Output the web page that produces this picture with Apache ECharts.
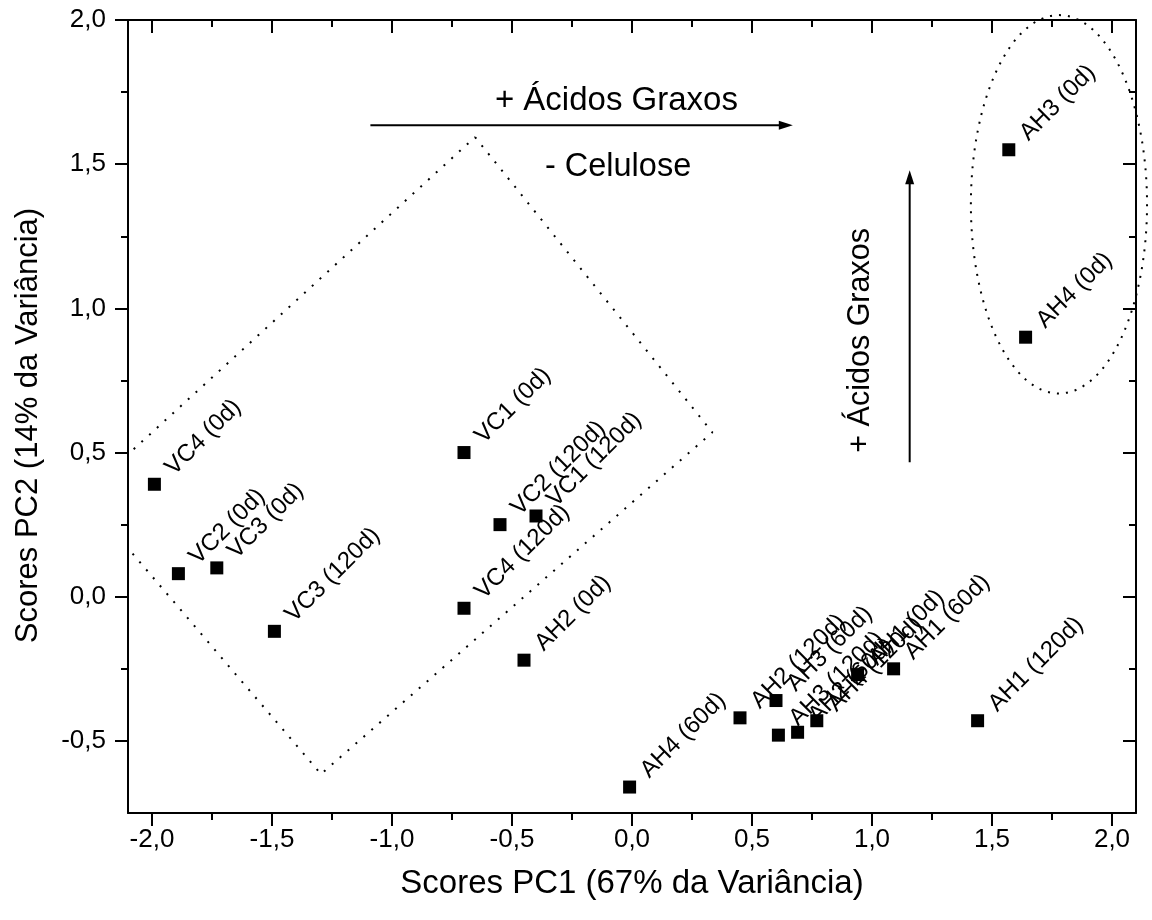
<!DOCTYPE html>
<html>
<head>
<meta charset="utf-8">
<script src="https://cdn.jsdelivr.net/npm/echarts@6/dist/echarts.min.js"></script>
<style>
html,body{margin:0;padding:0;background:#fff;}
#chart{width:1152px;height:920px;}
</style>
</head>
<body>
<div id="chart"></div>
<script>
const FONT = '"Liberation Sans", Arial, sans-serif';

// Sample labels and PCA scores
const labels = ['VC4 (0d)', 'VC2 (0d)', 'VC3 (0d)', 'VC3 (120d)', 'VC1 (0d)', 'VC4 (120d)', 'VC2 (120d)', 'VC1 (120d)',
  'AH2 (0d)', 'AH3 (0d)', 'AH4 (0d)', 'AH4 (60d)', 'AH2 (120d)', 'AH3 (60d)', 'AH3 (120d)', 'AH2 (60d)',
  'AH4 (120d)', 'AH1 (0d)', 'AH1 (60d)', 'AH1 (120d)'];
const pc1 = [-1.99, -1.89, -1.73, -1.49, -0.70, -0.70, -0.55, -0.40,
  -0.45, 1.57, 1.64, -0.01, 0.45, 0.60, 0.61, 0.69,
  0.77, 0.94, 1.09, 1.44];
const pc2 = [0.39, 0.08, 0.10, -0.12, 0.50, -0.04, 0.25, 0.28,
  -0.22, 1.55, 0.90, -0.66, -0.42, -0.36, -0.48, -0.47,
  -0.43, -0.27, -0.25, -0.43];

// Axis ticks
const xMajor = [-2, -1.5, -1, -0.5, 0, 0.5, 1, 1.5, 2];
const xMinor = [-1.75, -1.25, -0.75, -0.25, 0.25, 0.75, 1.25, 1.75];
const yMajor = [-0.5, 0, 0.5, 1, 1.5, 2];
const yMinor = [-0.25, 0.25, 0.75, 1.25, 1.75];
const xRange = [-2.1, 2.1];
const yRange = [-0.75, 2.0];

// Dotted group outlines (data coordinates)
const boxX = [-0.654, 0.335, -1.296, -2.2875, -0.654];
const boxY = [1.594, 0.57, -0.615, 0.351, 1.594];
const ellipseCx = [1.779];
const ellipseCy = [1.361];
const ellipseRx = [0.367];
const ellipseRy = [0.656];

// Arrows: start x, start y, end x, end y
const arrowX1 = [-1.09, 1.157];
const arrowY1 = [1.635, 0.466];
const arrowX2 = [0.67, 1.157];
const arrowY2 = [1.635, 1.479];

// Annotation texts
const noteText = ['+ Ácidos Graxos', '- Celulose', '+ Ácidos Graxos'];
const noteX = [-0.065, -0.058, 0.954];
const noteY = [1.719, 1.49, 0.889];
const noteRot = [0, 0, 90];
const noteSize = [33, 32.5, 30.5];

const fmt = v => Number(v).toFixed(1).replace('.', ',');

function xAxisDef(pos, values, len, inside, withLine, withLabel) {
  return {
    type: 'value', position: pos, min: xRange[0], max: xRange[1],
    axisLine: {show: withLine, onZero: false, lineStyle: {color: '#000', width: 2}},
    axisTick: {show: true, inside: inside, length: len, customValues: values, lineStyle: {color: '#000', width: 2}},
    axisLabel: withLabel ? {show: true, customValues: xMajor, formatter: fmt, fontSize: 26, color: '#000', fontFamily: FONT, margin: 14} : {show: false},
    splitLine: {show: false}
  };
}
function yAxisDef(pos, values, len, inside, withLine, withLabel) {
  return {
    type: 'value', position: pos, min: yRange[0], max: yRange[1],
    axisLine: {show: withLine, onZero: false, lineStyle: {color: '#000', width: 2}},
    axisTick: {show: true, inside: inside, length: len, customValues: values, lineStyle: {color: '#000', width: 2}},
    axisLabel: withLabel ? {show: true, customValues: yMajor, formatter: fmt, fontSize: 26, color: '#000', fontFamily: FONT, margin: 22} : {show: false},
    splitLine: {show: false}
  };
}

const xAxes = [
  xAxisDef('bottom', xMajor, 13, false, true, true),
  xAxisDef('bottom', xMinor, 7, false, false, false),
  xAxisDef('top', xMajor, 13, true, true, false),
  xAxisDef('top', xMinor, 7, true, false, false)
];
Object.assign(xAxes[0], {name: 'Scores PC1 (67% da Variância)', nameLocation: 'middle', nameGap: 54,
  nameTextStyle: {fontSize: 33, color: '#000', fontFamily: FONT}});
const yAxes = [
  yAxisDef('left', yMajor, 13, false, true, true),
  yAxisDef('left', yMinor, 7, false, false, false),
  yAxisDef('right', yMajor, 13, true, true, false),
  yAxisDef('right', yMinor, 7, true, false, false)
];
Object.assign(yAxes[0], {name: 'Scores PC2 (14% da Variância)', nameLocation: 'middle', nameGap: 84,
  nameTextStyle: {fontSize: 31, color: '#000', fontFamily: FONT, padding: [0, 18, 0, 0]}});

const pointData = labels.map((n, i) => ({name: n, value: [pc1[i], pc2[i]]}));
const boxData = boxX.map((x, i) => [x, boxY[i]]);
const ellData = ellipseCx.map((x, i) => [x, ellipseCy[i], ellipseRx[i], ellipseRy[i]]);
const arrowData = arrowX1.map((x, i) => [x, arrowY1[i], arrowX2[i], arrowY2[i]]);
const noteData = noteText.map((t, i) => [noteX[i], noteY[i], noteRot[i], t]);

const option = {
  backgroundColor: '#fff',
  animation: false,
  grid: {left: 128, right: 16, top: 20, bottom: 107, containLabel: false},
  xAxis: xAxes,
  yAxis: yAxes,
  series: [
    {
      type: 'line', data: boxData, showSymbol: false, symbol: 'none', clip: false, silent: true,
      lineStyle: {color: '#000', width: 2, type: [2, 8.5]}, z: 1
    },
    {
      type: 'custom', data: ellData, clip: false, silent: true, z: 1,
      renderItem: function (params, api) {
        const c = api.coord([api.value(0), api.value(1)]);
        const s = api.size([api.value(2), api.value(3)]);
        return {type: 'ellipse', shape: {cx: c[0], cy: c[1], rx: s[0], ry: s[1]},
          style: {fill: null, stroke: '#000', lineWidth: 2, lineDash: [2, 7]}};
      }
    },
    {
      type: 'custom', data: arrowData, clip: false, silent: true, z: 3,
      renderItem: function (params, api) {
        const p1 = api.coord([api.value(0), api.value(1)]);
        const p2 = api.coord([api.value(2), api.value(3)]);
        const dx = p2[0] - p1[0], dy = p2[1] - p1[1];
        const L = Math.sqrt(dx * dx + dy * dy);
        const ux = dx / L, uy = dy / L;
        const hl = 14, hw = 4.5;
        const bx = p2[0] - ux * hl, by = p2[1] - uy * hl;
        return {type: 'group', children: [
          {type: 'line', shape: {x1: p1[0], y1: p1[1], x2: bx + ux * 2, y2: by + uy * 2}, style: {stroke: '#000', lineWidth: 2}},
          {type: 'polygon', shape: {points: [[p2[0], p2[1]], [bx - uy * hw, by + ux * hw], [bx + uy * hw, by - ux * hw]]}, style: {fill: '#000'}}
        ]};
      }
    },
    {
      type: 'custom', data: noteData, clip: false, silent: true, z: 3,
      renderItem: function (params, api) {
        const p = api.coord([api.value(0), api.value(1)]);
        const i = params.dataIndex;
        return {type: 'text', x: p[0], y: p[1], rotation: noteRot[i] * Math.PI / 180,
          style: {text: noteText[i], fill: '#000', fontSize: noteSize[i], fontFamily: FONT, align: 'center', verticalAlign: 'middle'}};
      }
    },
    {
      type: 'scatter', data: pointData, symbol: 'rect', symbolSize: 13, z: 4,
      itemStyle: {color: '#000', opacity: 1},
      label: {show: true, formatter: '{b}', position: [30, 2], rotate: 45, align: 'left', verticalAlign: 'bottom',
        fontSize: 24, color: '#000', opacity: 1, fontFamily: FONT},
      emphasis: {disabled: true}
    }
  ]
};
const chart = echarts.init(document.getElementById('chart'), null, {renderer: 'canvas'});
chart.setOption(option);
</script>
</body>
</html>
